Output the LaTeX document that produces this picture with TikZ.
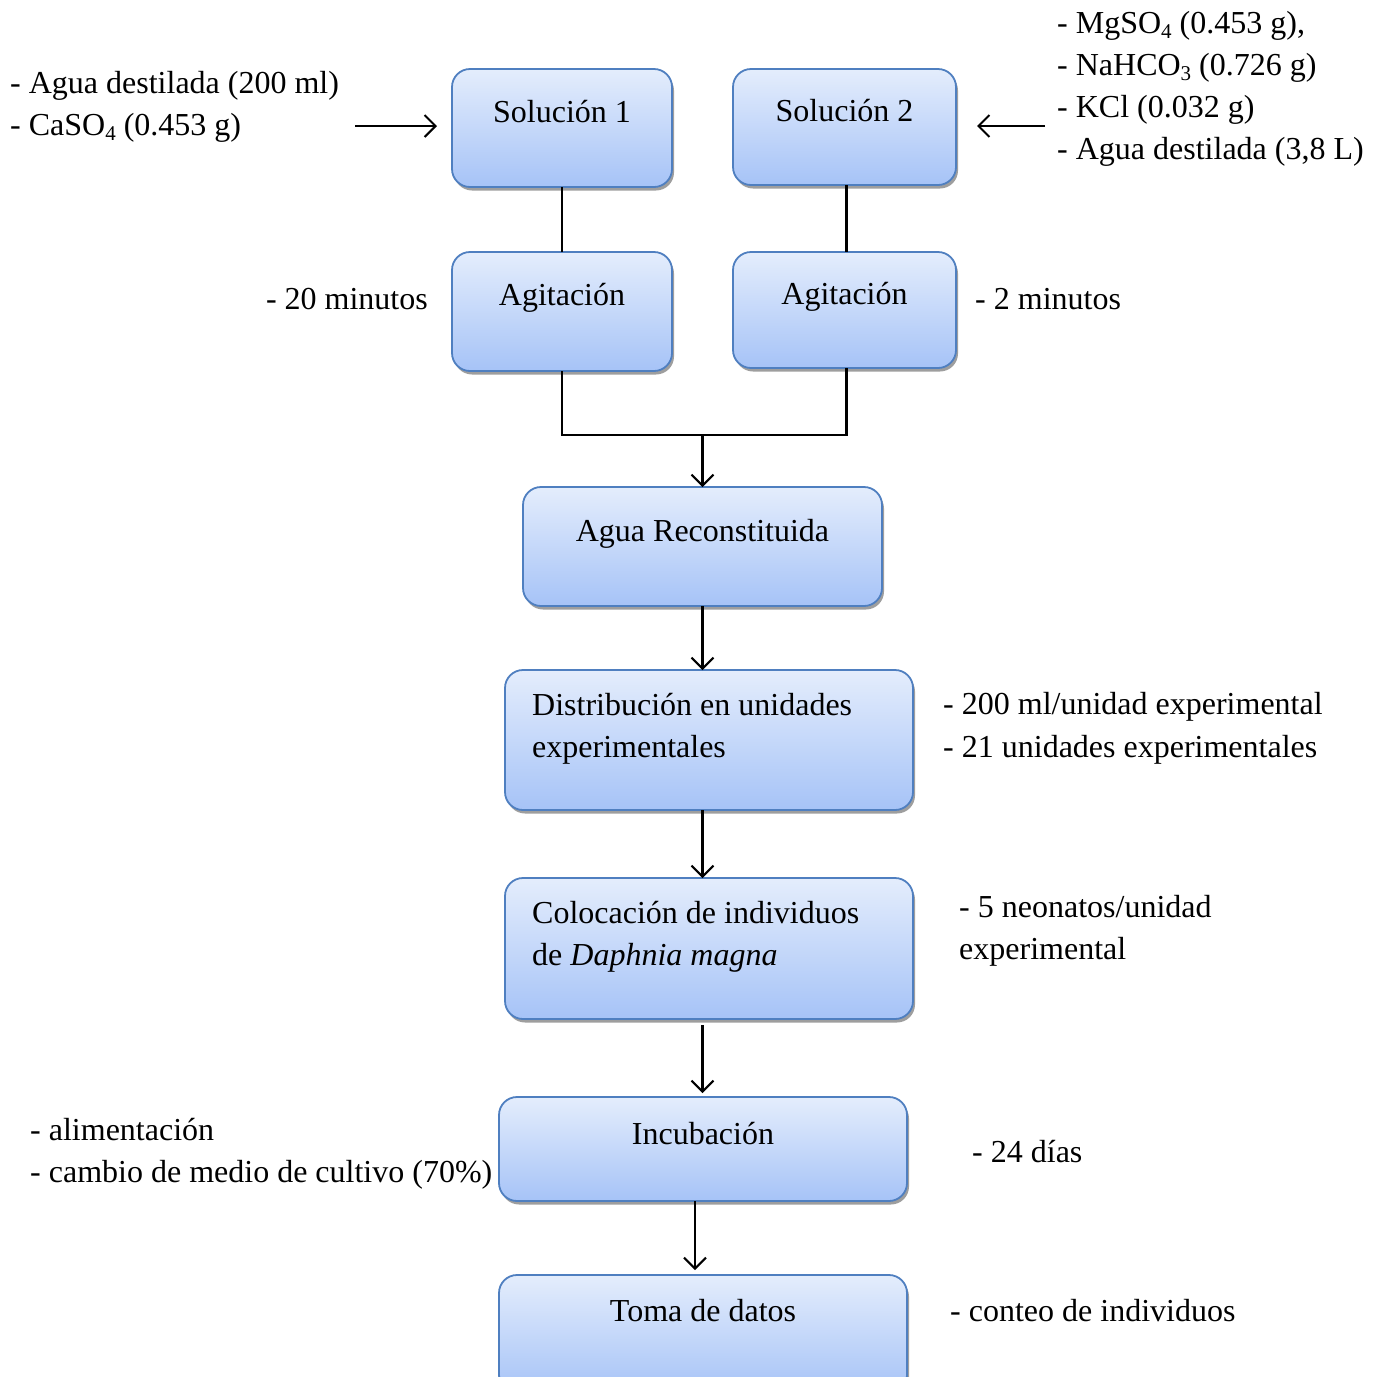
\documentclass[tikz,border=0pt]{standalone}
\usepackage{fontspec}
\setmainfont{Liberation Serif}
\usetikzlibrary{arrows.meta,shadows}
\definecolor{boxtop}{HTML}{E4EDFC}
\definecolor{boxbot}{HTML}{A6C3F7}
\definecolor{boxline}{HTML}{4F7FC0}
\newcommand\sbs[1]{\raisebox{-0.18em}{\fontsize{21}{21}\selectfont #1}}
\tikzset{
  box/.style={rectangle, rounded corners=18pt, draw=boxline, line width=1.8pt,
    top color=boxtop, bottom color=boxbot, outer sep=0pt, inner sep=0pt,
    drop shadow={shadow xshift=2pt, shadow yshift=-3.5pt, fill=black!38, opacity=1}},
  txt/.style={inner sep=0pt, font=\fontsize{32}{42}\selectfont},
  conn/.style={line width=2.1pt},
  arr/.style={line width=2.1pt, -{Straight Barb[length=11pt,width=22pt]}}
}
\begin{document}
\begin{tikzpicture}[x=1pt,y=-1pt]
\useasboundingbox (0,0) rectangle (1377,1377);
% boxes
\node[box, minimum width=220pt, minimum height=118pt] (s1) at (562,128) {};
\node[box, minimum width=223pt, minimum height=116pt] (s2) at (844.5,127) {};
\node[box, minimum width=220pt, minimum height=119pt] (a1) at (562,311.5) {};
\node[box, minimum width=223pt, minimum height=116pt] (a2) at (844.5,310) {};
\node[box, minimum width=359pt, minimum height=119pt] (agua) at (702.5,546.5) {};
\node[box, minimum width=408pt, minimum height=140pt] (dist) at (709,740) {};
\node[box, minimum width=408pt, minimum height=141pt] (col) at (709,948.5) {};
\node[box, minimum width=408pt, minimum height=104pt] (inc) at (703,1149) {};
\node[box, minimum width=408pt, minimum height=118pt] (toma) at (703,1334) {};
% box texts
\node[txt, anchor=base] (s1t) at (562,122) {Solución 1};
\node[txt, anchor=base] (s2t) at (844.5,121) {Solución 2};
\node[txt, anchor=base] (a1t) at (562,305) {Agitación};
\node[txt, anchor=base] (a2t) at (844.5,304) {Agitación};
\node[txt, anchor=base] (aguat) at (702.5,541) {Agua Reconstituida};
\node[txt, anchor=base west] (distt1) at (532,715) {Distribución en unidades};
\node[txt, anchor=base west] (distt2) at (532,757) {experimentales};
\node[txt, anchor=base west] (colt1) at (532,923) {Colocación de individuos};
\node[txt, anchor=base west] (colt2) at (532,965) {de \textit{Daphnia magna}};
\node[txt, anchor=base] (inct) at (703,1144) {Incubación};
\node[txt, anchor=base] (tomat) at (703,1321) {Toma de datos};
% side texts
\node[txt, anchor=base west] (l1) at (10,93) {- Agua destilada (200 ml)};
\node[txt, anchor=base west] (l2) at (10,135) {- CaSO\sbs{4} (0.453 g)};
\node[txt, anchor=base west] (r1) at (1057,33) {- MgSO\sbs{4} (0.453 g),};
\node[txt, anchor=base west] (r2) at (1057,75) {- NaHCO\sbs{3} (0.726 g)};
\node[txt, anchor=base west] (r3) at (1057,117) {- KCl (0.032 g)};
\node[txt, anchor=base west] (r4) at (1057,159) {- Agua destilada (3,8 L)};
\node[txt, anchor=base east] (m20) at (428,309) {- 20 minutos};
\node[txt, anchor=base west] (m2) at (975,309) {- 2 minutos};
\node[txt, anchor=base west] (d1) at (943,714) {- 200 ml/unidad experimental};
\node[txt, anchor=base west] (d2) at (943,757) {- 21 unidades experimentales};
\node[txt, anchor=base west] (n1) at (959,917) {- 5 neonatos/unidad};
\node[txt, anchor=base west] (n2) at (959,959) {experimental};
\node[txt, anchor=base west] (al1) at (30,1140) {- alimentación};
\node[txt, anchor=base west] (al2) at (30,1182) {- cambio de medio de cultivo (70\%)};
\node[txt, anchor=base west] (dias) at (972,1162) {- 24 días};
\node[txt, anchor=base west] (conteo) at (950,1321) {- conteo de individuos};
% connectors
\coordinate (la) at (355,126);
\coordinate (ra) at (1045,126);
\coordinate (j) at (702.5,435);
\draw[arr] (la) -- ([xshift=-15pt,yshift=2pt]s1.west);
\draw[arr] (ra) -- ([xshift=21pt,yshift=1pt]s2.east);
\draw[conn] (s1.south) -- (a1.north);
\draw[conn] ([xshift=2pt]s2.south) -- ([xshift=2pt]a2.north);
\draw[conn] (a1.south) |- (j) -| ([xshift=2pt]a2.south);
\draw[arr] (j) -- (agua.north);
\draw[arr] (agua.south) -- ([xshift=-6.5pt]dist.north);
\draw[arr] ([xshift=-6.5pt]dist.south) -- ([xshift=-6.5pt]col.north);
\draw[arr] ([xshift=-6.5pt,yshift=-6pt]col.south) -- ([xshift=-0.5pt,yshift=4pt]inc.north);
\draw[arr] ([xshift=-8pt]inc.south) -- ([xshift=-8pt,yshift=5pt]toma.north);
\end{tikzpicture}
\end{document}
